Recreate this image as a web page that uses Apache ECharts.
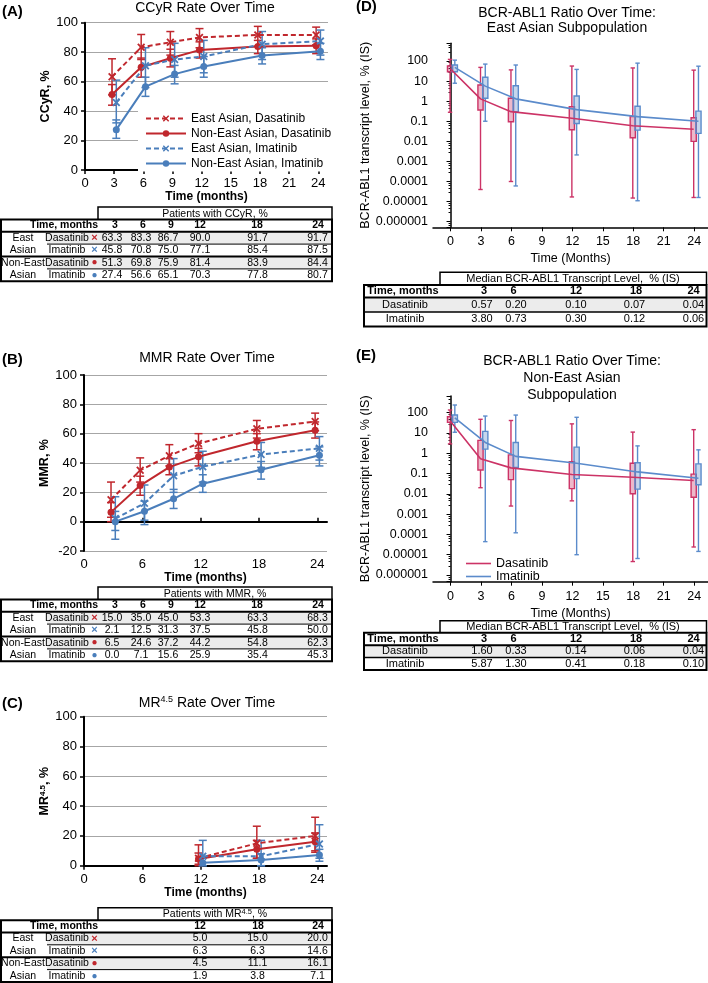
<!DOCTYPE html>
<html><head><meta charset="utf-8">
<script src="https://cdn.jsdelivr.net/npm/echarts@6/dist/echarts.min.js"></script>
<style>html,body{margin:0;padding:0;background:#fff}#c{width:708px;height:983px}</style>
</head><body><div id="c"></div>
<script>
// ---------------- DATA ----------------
const months = [3, 6, 9, 12, 18, 24];
const mr45Months = [12, 18, 24];
const boxMonths = [0, 3, 6, 12, 18, 24];
const tableMonths = ['3', '6', '9', '12', '18', '24'];
const mr45TableMonths = ['12', '18', '24'];
const medTableMonths = ['3', '6', '12', '18', '24'];
const xTicks3 = [0, 3, 6, 9, 12, 15, 18, 21, 24];
const xTicks6 = [0, 6, 12, 18, 24];

const seriesNames = ['East Asian, Dasatinib', 'Non-East Asian, Dasatinib', 'East Asian, Imatinib', 'Non-East Asian, Imatinib'];
const groupLabels = ['East', 'Asian', 'Non-East', 'Asian'];
const drugLabels = ['Dasatinib', 'Imatinib', 'Dasatinib', 'Imatinib'];

// CCyR (%)
const ccyrEADas = [63.3, 83.3, 86.7, 90.0, 91.7, 91.7];
const ccyrEADasLo = [51, 75, 78, 83, 84, 85];
const ccyrEADasHi = [75.5, 92, 94, 96, 97.5, 97];
const ccyrNEADas = [51.3, 69.8, 75.9, 81.4, 83.9, 84.4];
const ccyrNEADasLo = [44, 63, 70, 76, 79, 79];
const ccyrNEADasHi = [58, 76, 82, 87, 88, 89];
const ccyrEAIma = [45.8, 70.8, 75.0, 77.1, 85.4, 87.5];
const ccyrEAImaLo = [32, 56, 63, 66, 75, 78];
const ccyrEAImaHi = [61, 83, 86, 88, 94, 95];
const ccyrNEAIma = [27.4, 56.6, 65.1, 70.3, 77.8, 80.7];
const ccyrNEAImaLo = [21.5, 50, 58.5, 63, 72, 75];
const ccyrNEAImaHi = [34, 63, 71, 77, 83, 86];

// MMR (%)
const mmrEADas = [15.0, 35.0, 45.0, 53.3, 63.3, 68.3];
const mmrEADasLo = [3, 27, 38, 47, 57, 62];
const mmrEADasHi = [27, 43.5, 52.5, 60, 69, 74];
const mmrNEADas = [6.5, 24.6, 37.2, 44.2, 54.8, 62.3];
const mmrNEADasLo = [0, 18, 32, 38, 49, 57];
const mmrNEADasHi = [13, 31, 43, 50, 60, 68];
const mmrEAIma = [2.1, 12.5, 31.3, 37.5, 45.8, 50.0];
const mmrEAImaLo = [-6, 1, 20, 27, 37, 42];
const mmrEAImaHi = [17, 25, 43, 48, 54, 58];
const mmrNEAIma = [0.0, 7.1, 15.6, 25.9, 35.4, 45.3];
const mmrNEAImaLo = [-12, -2, 9, 20, 29, 38];
const mmrNEAImaHi = [7, 14, 22, 32, 41, 51];

// MR4.5 (%)
const mr45EADas = [5.0, 15.0, 20.0];
const mr45EADasLo = [0, 5, 9];
const mr45EADasHi = [14, 26.5, 32.5];
const mr45NEADas = [4.5, 11.1, 16.1];
const mr45NEADasLo = [1, 5, 10];
const mr45NEADasHi = [8.5, 17, 22];
const mr45EAIma = [6.3, 6.3, 14.6];
const mr45EAImaLo = [0, 0, 5];
const mr45EAImaHi = [17, 17, 27.5];
const mr45NEAIma = [1.9, 3.8, 7.1];
const mr45NEAImaLo = [0, 0, 3];
const mr45NEAImaHi = [5, 8, 11];

// BCR-ABL1 (% IS), East Asian (D)
const dDasLow = [0.28, 4e-5, 1e-4, 1.7e-5, 1.5e-5, 1.6e-5];
const dDasQ1 = [29, 0.36, 0.095, 0.038, 0.015, 0.01];
const dDasQ3 = [56, 6.4, 1.4, 0.53, 0.17, 0.15];
const dDasHigh = [120, 48, 36, 56, 45, 35];
const dDasLine = [42, 1.3, 0.3, 0.14, 0.06, 0.04];
const dImaLow = [7.8, 0.1, 6e-5, 0.0021, 1.1e-5, 1.6e-5];
const dImaQ1 = [29, 1.4, 0.3, 0.077, 0.036, 0.025];
const dImaQ3 = [63, 15.5, 5.8, 1.8, 0.56, 0.32];
const dImaHigh = [110, 70, 63, 38, 78, 55];
const dImaLine = [48, 5.6, 1.3, 0.38, 0.17, 0.1];
const dTableDas = ['0.57', '0.20', '0.10', '0.07', '0.04'];
const dTableIma = ['3.80', '0.73', '0.30', '0.12', '0.06'];

// BCR-ABL1 (% IS), Non-East Asian (E)
const eDasLow = [2.9, 0.02, 0.0025, 0.0045, 4.6e-6, 2.4e-5];
const eDasQ1 = [33, 0.15, 0.05, 0.018, 0.01, 0.0068];
const eDasQ3 = [63, 4.3, 0.83, 0.38, 0.32, 0.093];
const eDasHigh = [135, 47, 41, 28, 11, 14.5];
const eDasLine = [40, 0.54, 0.19, 0.09, 0.065, 0.045];
const eImaLow = [10.8, 4.4e-5, 1.2e-4, 1e-5, 6.5e-6, 1.45e-5];
const eImaQ1 = [33, 1.6, 0.2, 0.056, 0.017, 0.028];
const eImaQ3 = [77, 12, 3.4, 2, 0.34, 0.3];
const eImaHigh = [238, 68, 76, 59, 2.3, 1.47];
const eImaLine = [55, 3.4, 0.7, 0.32, 0.12, 0.058];
const eTableDas = ['1.60', '0.33', '0.14', '0.06', '0.04'];
const eTableIma = ['5.87', '1.30', '0.41', '0.18', '0.10'];

// ---------------- STYLE ----------------
const FONT = "'Liberation Sans', Arial, Helvetica, sans-serif";
const RED = '#C0272D', BLUE = '#4A7EBB';
const MAG = '#CC3366', LBLUE = '#5B8BCB';
const CROSS = 'path://M0,1.6 L1.6,0 L5,3.4 L8.4,0 L10,1.6 L6.6,5 L10,8.4 L8.4,10 L5,6.6 L1.6,10 L0,8.4 L3.4,5 Z';
const OFF_D = -0.22, OFF_I = 0.22;

// ---------------- HELPERS ----------------
function errRender(params, api) {
  const x = api.value(0);
  const p1 = api.coord([x, api.value(1)]);
  const p2 = api.coord([x, api.value(2)]);
  const w = 4;
  const st = { stroke: api.visual('color'), lineWidth: 1.5, fill: null };
  return { type: 'group', children: [
    { type: 'line', shape: { x1: p1[0], y1: p1[1], x2: p2[0], y2: p2[1] }, style: st },
    { type: 'line', shape: { x1: p1[0] - w, y1: p1[1], x2: p1[0] + w, y2: p1[1] }, style: st },
    { type: 'line', shape: { x1: p2[0] - w, y1: p2[1], x2: p2[0] + w, y2: p2[1] }, style: st }
  ]};
}
function boxRender(params, api) {
  const x = api.value(0);
  const pL = api.coord([x, api.value(1)]);
  const pQ1 = api.coord([x, api.value(2)]);
  const pQ3 = api.coord([x, api.value(3)]);
  const pH = api.coord([x, api.value(4)]);
  const c = api.visual('color');
  const hw = 2.6, cw = 2.2;
  const st = { stroke: c, lineWidth: 1.4, fill: null };
  return { type: 'group', children: [
    { type: 'line', shape: { x1: pL[0], y1: pL[1], x2: pQ1[0], y2: pQ1[1] }, style: st },
    { type: 'line', shape: { x1: pQ3[0], y1: pQ3[1], x2: pH[0], y2: pH[1] }, style: st },
    { type: 'line', shape: { x1: pL[0] - cw, y1: pL[1], x2: pL[0] + cw, y2: pL[1] }, style: st },
    { type: 'line', shape: { x1: pH[0] - cw, y1: pH[1], x2: pH[0] + cw, y2: pH[1] }, style: st },
    { type: 'rect', shape: { x: pQ3[0] - hw, y: pQ3[1], width: 2 * hw, height: pQ1[1] - pQ3[1] },
      style: { stroke: c, lineWidth: 1.4, fill: echarts.color.modifyAlpha(c, 0.35) } }
  ]};
}
function lineS(name, xi, xs, ys, color, dashed, sym, off) {
  return { type: 'line', name, xAxisIndex: xi, yAxisIndex: xi,
    data: xs.map((m, i) => [m + off, ys[i]]), symbol: sym, symbolSize: sym === 'circle' ? 7 : 8,
    lineStyle: { color, width: 2, type: dashed ? [5, 3] : 'solid' }, itemStyle: { color },
    z: 4, clip: false, animation: false };
}
function errS(xi, xs, lo, hi, color, off) {
  return { type: 'custom', xAxisIndex: xi, yAxisIndex: xi, renderItem: errRender,
    itemStyle: { color }, data: xs.map((m, i) => [m + off, lo[i], hi[i]]),
    encode: { x: 0, y: [1, 2] }, z: 3, clip: false, animation: false };
}
function boxS(xi, xs, low, q1, q3, high, color, off) {
  return { type: 'custom', xAxisIndex: xi, yAxisIndex: xi, renderItem: boxRender,
    itemStyle: { color }, data: xs.map((m, i) => [m + off, low[i], q1[i], q3[i], high[i]]),
    encode: { x: 0, y: [1, 2, 3, 4] }, z: 3, clip: false, animation: false };
}
function medLine(name, xi, xs, ys, color, off) {
  return { type: 'line', name, xAxisIndex: xi, yAxisIndex: xi,
    data: xs.map((m, i) => [m + off, ys[i]]), symbol: 'none',
    lineStyle: { color, width: 1.6 }, itemStyle: { color }, z: 4, clip: false, animation: false };
}
function panelSet(xi, xs, vals) {
  return [
    errS(xi, xs, vals[1], vals[2], RED, OFF_D),
    errS(xi, xs, vals[4], vals[5], RED, OFF_D),
    errS(xi, xs, vals[7], vals[8], BLUE, OFF_I),
    errS(xi, xs, vals[10], vals[11], BLUE, OFF_I),
    lineS(seriesNames[0], xi, xs, vals[0], RED, true, CROSS, OFF_D),
    lineS(seriesNames[1], xi, xs, vals[3], RED, false, 'circle', OFF_D),
    lineS(seriesNames[2], xi, xs, vals[6], BLUE, true, CROSS, OFF_I),
    lineS(seriesNames[3], xi, xs, vals[9], BLUE, false, 'circle', OFF_I)
  ];
}
function logLabel(v) {
  const e = Math.log10(v), r = Math.round(e);
  if (Math.abs(e - r) > 1e-6) return '';
  if (r >= 0) return String(Math.pow(10, r));
  return '0.' + '0'.repeat(-r - 1) + '1';
}

// graphic helpers
function txt(text, x, y, o) {
  o = o || {};
  return { type: 'text', x, y, silent: true, z: 100,
    style: Object.assign({ text, fill: '#000', fontSize: 10.5, fontFamily: FONT,
      align: 'center', verticalAlign: 'middle', textAlign: 'center', textVerticalAlign: 'middle' }, o) };
}
function rct(x, y, w, h, o) {
  return { type: 'rect', silent: true, z: 99, shape: { x, y, width: w, height: h }, style: Object.assign({ fill: null, stroke: '#000', lineWidth: 2 }, o) };
}
function ln(x1, y1, x2, y2, w) {
  return { type: 'line', silent: true, z: 100, shape: { x1, y1, x2, y2 }, style: { stroke: '#000', lineWidth: w } };
}
const SUP = { sup: { fontSize: 7.5, verticalAlign: 'top', padding: [0, 0, 5, 0] } };

function groupTable(top, caption, capRich, headX, valX, heads, rows) {
  const L = 1, R = 332, CAP = 98, capH = 12.5, headH = 12.2, rowH = 12.4;
  const t0 = top + capH, t1 = t0 + headH, bottom = t1 + 4 * rowH;
  const els = [];
  [0, 2].forEach(r => els.push(rct(47, t1 + r * rowH, R - 47, rowH, { fill: '#ececec', stroke: null, lineWidth: 0 })));
  els.push({ type: 'polyline', silent: true, z: 100, shape: { points: [[CAP, t0], [CAP, top], [R, top], [R, t0]] }, style: { stroke: '#000', lineWidth: 1.5, fill: null } });
  els.push(txt(caption, (CAP + R) / 2, top + capH / 2 + 0.5, capRich ? { rich: capRich } : {}));
  els.push(rct(L, t0, R - L, bottom - t0));
  els.push(ln(L, t1, R, t1, 2));
  els.push(ln(L, t1 + 2 * rowH, R, t1 + 2 * rowH, 2));
  els.push(ln(47, t1 + rowH, R, t1 + rowH, 1));
  els.push(ln(47, t1 + 3 * rowH, R, t1 + 3 * rowH, 1));
  els.push(txt('Time, months', 64, t0 + headH / 2, { fontWeight: 'bold' }));
  heads.forEach((h, i) => els.push(txt(h, headX[i], t0 + headH / 2, { fontWeight: 'bold' })));
  const marks = ['×', '×', '●', '●'];
  const mcol = [RED, BLUE, RED, BLUE];
  rows.forEach((vals, r) => {
    const cy = t1 + r * rowH + rowH / 2;
    els.push(txt(groupLabels[r], 23, cy));
    els.push(txt(drugLabels[r], 67, cy));
    els.push(txt(marks[r], 94.5, cy, { fill: mcol[r], fontSize: r < 2 ? 11 : 10, fontWeight: 'bold' }));
    vals.forEach((v, i) => els.push(txt(v.toFixed(1), valX[i], cy)));
  });
  return els;
}
function medTable(capTop, capH, headH, rowH, dasVals, imaVals) {
  const L = 364, R = 706.5, CAP = 440;
  const t0 = capTop + capH, t1 = t0 + headH, bottom = t1 + 2 * rowH;
  const headX = [484, 513.5, 576, 636, 693.5];
  const valX = [482, 516, 576, 634.5, 693.5];
  const els = [];
  els.push(rct(L, t1, R - L, rowH, { fill: '#ececec', stroke: null, lineWidth: 0 }));
  els.push({ type: 'polyline', silent: true, z: 100, shape: { points: [[CAP, t0], [CAP, capTop], [R, capTop], [R, t0]] }, style: { stroke: '#000', lineWidth: 1.5, fill: null } });
  els.push(txt('Median BCR-ABL1 Transcript Level,  % (IS)', 573, capTop + capH / 2 + 0.5, { fontSize: 11 }));
  els.push(rct(L, t0, R - L, bottom - t0));
  els.push(ln(L, t1, R, t1, 2));
  els.push(ln(L, t1 + rowH, R, t1 + rowH, 1.5));
  els.push(txt('Time, months', 403, t0 + headH / 2, { fontWeight: 'bold', fontSize: 11 }));
  medTableMonths.forEach((h, i) => els.push(txt(h, headX[i], t0 + headH / 2, { fontWeight: 'bold', fontSize: 11 })));
  [['Dasatinib', dasVals], ['Imatinib', imaVals]].forEach((row, r) => {
    const cy = t1 + r * rowH + rowH / 2;
    els.push(txt(row[0], 405, cy, { fontSize: 11 }));
    row[1].forEach((v, i) => els.push(txt(v, valX[i], cy, { fontSize: 11 })));
  });
  return els;
}

// ---------------- AXES ----------------
const axisBlack = { show: true, lineStyle: { color: '#000', width: 2 } };
const gridLine = { show: true, lineStyle: { color: '#a6a6a6', width: 1 } };
function pctY(gi, min, name, nameRich) {
  return { type: 'value', gridIndex: gi, min, max: 100, interval: 20,
    axisLine: axisBlack, axisTick: { show: true, length: 4, lineStyle: { color: '#000', width: 1.5 } },
    axisLabel: { color: '#000', fontSize: 13, fontFamily: FONT, margin: 7 },
    splitLine: gridLine,
    name, nameLocation: 'middle', nameGap: 29,
    nameTextStyle: { color: '#000', fontSize: 12.5, fontWeight: 'bold', fontFamily: FONT, rich: nameRich } };
}
function pctX(gi, ticks, opts) {
  return Object.assign({ type: 'value', gridIndex: gi, min: 0, max: 25,
    axisLine: axisBlack,
    axisTick: { show: true, length: 4, customValues: ticks, lineStyle: { color: '#000', width: 1.5 } },
    axisLabel: { color: '#000', fontSize: 13, fontFamily: FONT, margin: 7, customValues: ticks },
    splitLine: { show: false },
    name: 'Time (months)', nameLocation: 'middle', nameGap: 20,
    nameTextStyle: { color: '#000', fontSize: 12, fontWeight: 'bold', fontFamily: FONT } }, opts || {});
}
function logY(gi, lo, hi) {
  return { type: 'log', gridIndex: gi, min: Math.pow(10, lo), max: Math.pow(10, hi), splitNumber: 10,
    axisLine: { show: true, lineStyle: { color: '#000', width: 1.5 } },
    axisTick: { show: true, length: 4, lineStyle: { color: '#000', width: 1 } },
    minorTick: { show: true, splitNumber: 5, length: 2, lineStyle: { color: '#000', width: 1 } },
    axisLabel: { color: '#000', fontSize: 12.5, fontFamily: FONT, margin: 5, formatter: logLabel, showMinLabel: false, showMaxLabel: false },
    splitLine: { show: false },
    name: 'BCR-ABL1 transcript level, % (IS)', nameLocation: 'middle', nameGap: 60,
    nameTextStyle: { color: '#000', fontSize: 12.5, fontFamily: FONT } };
}
function monthX(gi) {
  return { type: 'value', gridIndex: gi, min: -1.73, max: 25.36,
    axisLine: { show: true, onZero: false, lineStyle: { color: '#000', width: 1.5 } },
    axisTick: { show: true, length: 4, customValues: xTicks3, lineStyle: { color: '#000', width: 1 } },
    axisLabel: { color: '#000', fontSize: 12.5, fontFamily: FONT, margin: 8, customValues: xTicks3 },
    splitLine: { show: false },
    name: 'Time (Months)', nameLocation: 'middle', nameGap: 25,
    nameTextStyle: { color: '#000', fontSize: 12.5, fontFamily: FONT } };
}

// ---------------- OPTION ----------------
const ccyrSet = [ccyrEADas, ccyrEADasLo, ccyrEADasHi, ccyrNEADas, ccyrNEADasLo, ccyrNEADasHi, ccyrEAIma, ccyrEAImaLo, ccyrEAImaHi, ccyrNEAIma, ccyrNEAImaLo, ccyrNEAImaHi];
const mmrSet = [mmrEADas, mmrEADasLo, mmrEADasHi, mmrNEADas, mmrNEADasLo, mmrNEADasHi, mmrEAIma, mmrEAImaLo, mmrEAImaHi, mmrNEAIma, mmrNEAImaLo, mmrNEAImaHi];
const mr45Set = [mr45EADas, mr45EADasLo, mr45EADasHi, mr45NEADas, mr45NEADasLo, mr45NEADasHi, mr45EAIma, mr45EAImaLo, mr45EAImaHi, mr45NEAIma, mr45NEAImaLo, mr45NEAImaHi];

const titleSt = { fontSize: 14 };
const labelSt = { fontSize: 15, fontWeight: 'bold', align: 'left', textAlign: 'left' };
const graphic = [].concat(
  [txt('(A)', 2, 12, labelSt), txt('CCyR Rate Over Time', 205, 8, titleSt),
   txt('(B)', 2, 360, labelSt), txt('MMR Rate Over Time', 207, 358.5, titleSt),
   txt('(C)', 2, 704, labelSt), txt('MR{sup|4.5} Rate Over Time', 207, 703, Object.assign({ rich: { sup: { fontSize: 9, verticalAlign: 'top', padding: [0, 0, 6, 0] } } }, titleSt)),
   txt('(D)', 356, 7, labelSt), txt('BCR-ABL1 Ratio Over Time:', 567, 13.5, titleSt), txt('East Asian Subpopulation', 567, 28.5, titleSt),
   txt('(E)', 356, 356, labelSt), txt('BCR-ABL1 Ratio Over Time:', 572, 361.5, titleSt), txt('Non-East Asian', 572, 378.3, titleSt), txt('Subpopulation', 572, 395, titleSt)],
  groupTable(207, 'Patients with CCyR, %', null, [115, 143, 171, 200, 257, 318], [112, 141, 168, 200, 257.5, 317.5], tableMonths,
    [ccyrEADas, ccyrEAIma, ccyrNEADas, ccyrNEAIma]),
  groupTable(587, 'Patients with MMR, %', null, [115, 143, 171, 200, 257, 318], [112, 141, 168, 200, 257.5, 317.5], tableMonths,
    [mmrEADas, mmrEAIma, mmrNEADas, mmrNEAIma]),
  groupTable(907.7, 'Patients with MR{sup|4.5}, %', SUP, [200, 258, 318], [200, 257.5, 317.5], mr45TableMonths,
    [mr45EADas, mr45EAIma, mr45NEADas, mr45NEAIma]),
  medTable(272.3, 12.7, 12.5, 14.5, dTableDas, dTableIma),
  medTable(620.7, 12, 12.6, 12.3, eTableDas, eTableIma)
);

const option = {
  animation: false,
  backgroundColor: '#fff',
  textStyle: { fontFamily: FONT },
  grid: [
    { left: 85, top: 22.7, width: 243, height: 147.3 },
    { left: 84, top: 375, width: 243, height: 176 },
    { left: 84, top: 716.7, width: 243, height: 149 },
    { left: 433, top: 43.3, width: 275, height: 184 },
    { left: 433, top: 396, width: 275, height: 185.7 }
  ],
  xAxis: [
    pctX(0, xTicks3),
    pctX(1, xTicks6, { axisLine: { show: false, onZero: false }, axisTick: { show: false, customValues: xTicks6 } }),
    pctX(2, xTicks6),
    monthX(3),
    monthX(4),
    pctX(1, xTicks6, { name: '', axisLine: { show: true, onZero: true, lineStyle: { color: '#000', width: 2 } },
      axisLabel: { show: false, customValues: xTicks6 } })
  ],
  yAxis: [
    pctY(0, 0, 'CCyR, %'),
    pctY(1, -20, 'MMR, %'),
    pctY(2, 0, 'MR{sup|4.5}, %', { sup: { fontSize: 8, fontWeight: 'bold', verticalAlign: 'top', padding: [0, 0, 5, 0] } }),
    logY(3, -6.28, 2.88),
    logY(4, -6.33, 2.82)
  ],
  legend: [
    { data: seriesNames, orient: 'vertical', left: 138, top: 110.5, itemWidth: 40, itemHeight: 8, itemGap: 3,
      backgroundColor: '#fff', padding: [2, 6, 2, 7], selectedMode: false,
      textStyle: { fontSize: 12, color: '#000', fontFamily: FONT } },
    { data: ['Dasatinib', 'Imatinib'], orient: 'vertical', left: 461, top: 557, icon: 'rect', itemWidth: 25, itemHeight: 1.6, itemGap: 0,
      padding: [0, 5, 0, 5], selectedMode: false,
      textStyle: { fontSize: 12.5, lineHeight: 10, height: 10, color: '#000', fontFamily: FONT } }
  ],
  graphic: { elements: graphic },
  series: [].concat(
    panelSet(0, months, ccyrSet),
    panelSet(1, months, mmrSet),
    panelSet(2, mr45Months, mr45Set),
    [
      boxS(3, boxMonths, dDasLow, dDasQ1, dDasQ3, dDasHigh, MAG, -0.05),
      boxS(3, boxMonths, dImaLow, dImaQ1, dImaQ3, dImaHigh, LBLUE, 0.42),
      medLine('Dasatinib', 3, boxMonths, dDasLine, MAG, -0.05),
      medLine('Imatinib', 3, boxMonths, dImaLine, LBLUE, 0.42),
      boxS(4, boxMonths, eDasLow, eDasQ1, eDasQ3, eDasHigh, MAG, -0.05),
      boxS(4, boxMonths, eImaLow, eImaQ1, eImaQ3, eImaHigh, LBLUE, 0.42),
      medLine('Dasatinib', 4, boxMonths, eDasLine, MAG, -0.05),
      medLine('Imatinib', 4, boxMonths, eImaLine, LBLUE, 0.42)
    ]
  )
};
const chart = echarts.init(document.getElementById('c'), null, { renderer: 'canvas' });
chart.setOption(option);
</script>
</body></html>
